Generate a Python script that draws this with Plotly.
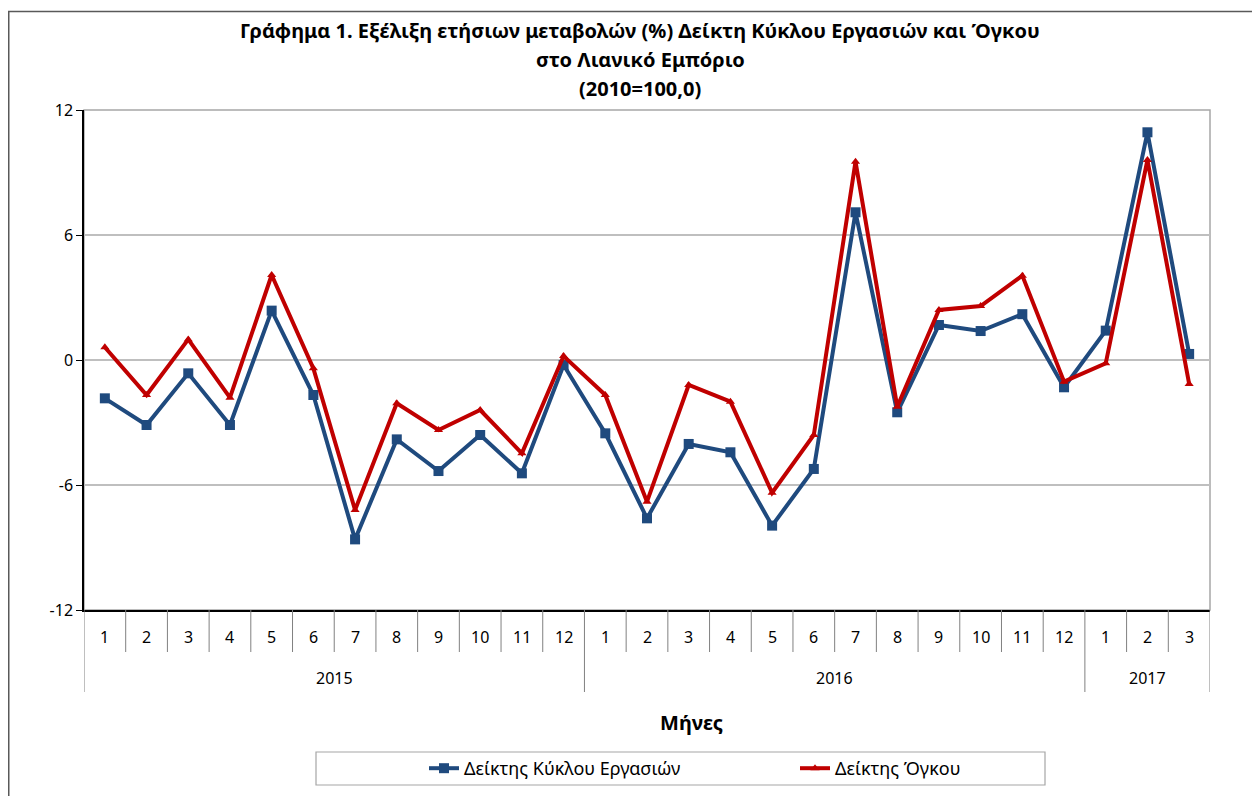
import plotly.graph_objects as go

years = ["2015"] * 12 + ["2016"] * 12 + ["2017"] * 3
months = [str(m) for m in range(1, 13)] + [str(m) for m in range(1, 13)] + ["1", "2", "3"]

turnover = [-1.84, -3.12, -0.64, -3.12, 2.37, -1.68, -8.61, -3.81, -5.33, -3.60, -5.44, -0.24,
            -3.52, -7.60, -4.03, -4.43, -7.95, -5.23, 7.09, -2.51, 1.68, 1.39, 2.20, -1.31,
            1.41, 10.93, 0.29]
volume = [0.61, -1.68, 0.99, -1.81, 4.08, -0.40, -7.20, -2.08, -3.36, -2.40, -4.48, 0.19,
          -1.68, -6.80, -1.20, -2.00, -6.37, -3.60, 9.52, -2.24, 2.40, 2.59, 4.05, -1.04,
          -0.16, 9.60, -1.15]

y_ticks = [-12, -6, 0, 6, 12]

title_lines = ["Γράφημα 1. Εξέλιξη ετήσιων μεταβολών (%) Δείκτη Κύκλου Εργασιών και Όγκου",
               "στο Λιανικό Εμπόριο", "(2010=100,0)"]
name_turnover = "Δείκτης Κύκλου Εργασιών"
name_volume = "Δείκτης Όγκου"
x_title = "Μήνες"

FONT = "Noto Sans, Open Sans, sans-serif"
BLUE = "#1F4A7E"
RED = "#C00000"
GREY = "#808080"

# page offset (body margin) compensation: screen coords -> figure coords
OFF = 8
W, H = 1260, 796
L, R, T, B = 84 - OFF, 1260 - (1210 - OFF), 110 - OFF, 796 - (610 - OFF)
pw, ph = W - L - R, H - T - B


def fx(sx):
    return (sx - OFF - L) / pw


def fy(sy):
    return (H - B - (sy - OFF)) / ph


xi = list(range(len(months)))

fig = go.Figure()
fig.add_trace(go.Scatter(
    x=xi, y=turnover, name=name_turnover, mode="lines+markers",
    line=dict(color=BLUE, width=4),
    marker=dict(symbol="square", size=10, color=BLUE),
))
fig.add_trace(go.Scatter(
    x=xi, y=volume, name=name_volume, mode="lines+markers",
    line=dict(color=RED, width=4),
    marker=dict(symbol="triangle-up", size=8, color=RED),
))

shapes = []
# outer chart border
shapes.append(dict(type="rect", xref="paper", yref="paper",
                   x0=fx(8.75), x1=fx(W + 20), y0=fy(H + 20), y1=fy(11.5),
                   line=dict(color="#595959", width=1.5), layer="below"))
# plot area border (grey top/right)
shapes.append(dict(type="rect", xref="paper", yref="paper", x0=0, x1=1, y0=0, y1=1,
                   line=dict(color="#A6A6A6", width=1.5), layer="below"))
# legend box
shapes.append(dict(type="rect", xref="paper", yref="paper",
                   x0=fx(316), x1=fx(1045), y0=fy(785), y1=fy(752),
                   line=dict(color="#A6A6A6", width=1.2), layer="below"))
# category dividers
n = len(months)
for i in range(n + 1):
    long = i == 0 or i == n or years[i] != years[i - 1]
    shapes.append(dict(type="line", xref="x", yref="paper",
                       x0=i - 0.5, x1=i - 0.5, y0=0, y1=fy(692 if long else 652),
                       line=dict(color=GREY, width=1)))

annotations = []
for line_txt, sy in zip(title_lines, [30, 60, 89]):
    annotations.append(dict(text="<b>" + line_txt + "</b>", xref="paper", yref="paper",
                            x=fx(640), y=fy(sy), xanchor="center", yanchor="middle",
                            showarrow=False, font=dict(family=FONT, size=20, color="black")))
annotations.append(dict(text="<b>" + x_title + "</b>", xref="paper", yref="paper",
                        x=fx(691), y=fy(722), xanchor="center", yanchor="middle",
                        showarrow=False, font=dict(family=FONT, size=20, color="black")))
for i, m in enumerate(months):
    annotations.append(dict(text=m, xref="x", yref="paper", x=i, y=fy(637),
                            xanchor="center", yanchor="middle", showarrow=False,
                            font=dict(family=FONT, size=16, color="black")))
seen = []
for y in years:
    if y not in seen:
        seen.append(y)
for y in seen:
    idx = [i for i, v in enumerate(years) if v == y]
    annotations.append(dict(text=y, xref="x", yref="paper", x=(idx[0] + idx[-1]) / 2, y=fy(678),
                            xanchor="center", yanchor="middle", showarrow=False,
                            font=dict(family=FONT, size=16, color="black")))

fig.update_layout(
    width=W, height=H,
    margin=dict(l=L, r=R, t=T, b=B),
    paper_bgcolor="white", plot_bgcolor="white",
    font=dict(family=FONT, size=16, color="black"),
    showlegend=True,
    legend=dict(orientation="h", x=fx(424), xanchor="left",
                y=fy(768.5), yanchor="middle",
                bgcolor="rgba(0,0,0,0)", borderwidth=0,
                font=dict(family=FONT, size=18, color="black"),
                entrywidth=326, entrywidthmode="pixels", itemwidth=30),
    shapes=shapes,
    annotations=annotations,
)

fig.update_xaxes(
    range=[-0.5, n - 0.5], showline=True, linecolor="black", linewidth=1.5,
    showticklabels=False, ticks="", showgrid=False, zeroline=False,
)
fig.update_yaxes(
    range=[-12, 12], tickvals=y_ticks, ticktext=[str(v) for v in y_ticks],
    showline=True, linecolor="black", linewidth=1.5,
    ticks="outside", ticklen=6, tickcolor="black",
    showgrid=True, gridcolor="#BFBFBF", gridwidth=1.5, zeroline=False,
    tickfont=dict(family=FONT, size=16, color="black"),
)

fig.write_html("out.html")
